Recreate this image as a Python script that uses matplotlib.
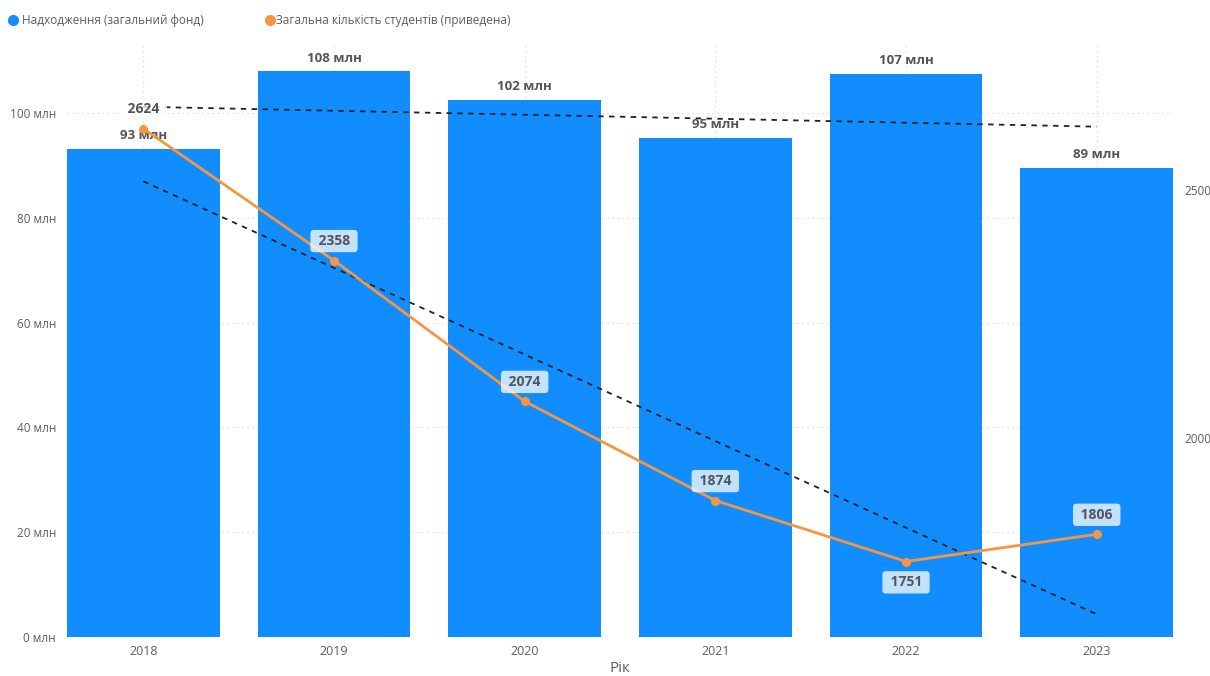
import matplotlib.pyplot as plt
from matplotlib.lines import Line2D
import numpy as np

plt.rcParams["font.family"] = ["Open Sans", "DejaVu Sans"]

# data
years = ["2018", "2019", "2020", "2021", "2022", "2023"]
income_mln = [93.1, 107.9, 102.4, 95.3, 107.4, 89.5]
income_labels = ["93 млн", "108 млн", "102 млн", "95 млн", "107 млн", "89 млн"]
students = [2624, 2358, 2074, 1874, 1751, 1806]
student_label_below = [False, False, False, False, True, False]
left_ticks = [0, 20, 40, 60, 80, 100]
right_ticks = [2000, 2500]

bar_color = "#118DFF"
line_color = "#F7963F"
text_color = "#605E5C"
label_color = "#555555"

x = np.arange(len(years))

fig = plt.figure(figsize=(12.1, 6.76), dpi=100)
ax = fig.add_axes([0.0554, 0.0577, 0.914, 0.880])
ax2 = ax.twinx()

ax.bar(x, income_mln, width=0.8, color=bar_color, zorder=2)
ax.set_xlim(-0.4, 5.4)
ax.set_ylim(0, 113.5)
ax.set_yticks(left_ticks)
ax.set_yticklabels([f"{v} млн" for v in left_ticks])
ax.set_xticks(x)
ax.set_xticklabels(years)
ax.grid(True, color="#d9d9d9", linestyle=(0, (1, 3)), linewidth=0.9, zorder=0)
ax.set_axisbelow(True)
ax.tick_params(length=0, colors=text_color, labelsize=8.5, pad=8)
ax.tick_params(axis="x", labelsize=9, pad=6)
for s in ax.spines.values():
    s.set_visible(False)
ax.set_xlabel("Рік", color=text_color, fontsize=11, labelpad=2)

# bar value labels
for xi, v, lab in zip(x, income_mln, income_labels):
    ax.annotate(lab, (xi, v), xytext=(0, 5), textcoords="offset points",
                ha="center", va="bottom", fontsize=9.5, fontweight="bold",
                color=label_color, zorder=5)

# bar trend line
k, b = np.polyfit(x, income_mln, 1)
ax.plot(x[[0, -1]], k * x[[0, -1]] + b, color="#222222", linestyle=(0, (3, 3)),
        linewidth=1.3, zorder=3)

# students line
ax2.plot(x, students, color=line_color, linewidth=2, marker="o", markersize=5.5,
         zorder=4)
ax2.set_ylim(1598.8, 2798.4)
ax2.set_yticks(right_ticks)
ax2.tick_params(length=0, colors=text_color, labelsize=8.5, pad=8)
for s in ax2.spines.values():
    s.set_visible(False)

k2, b2 = np.polyfit(x, students, 1)
ax2.plot(x[[0, -1]], k2 * x[[0, -1]] + b2, color="#222222", linestyle=(0, (3, 3)),
         linewidth=1.3, zorder=3)

for xi, v, below in zip(x, students, student_label_below):
    ax2.annotate(f" {v} ", (xi, v), xytext=(0, -15 if below else 14),
                 textcoords="offset points", ha="center", va="center",
                 fontsize=10, fontweight="bold", color=label_color, zorder=6,
                 bbox=dict(boxstyle="round,pad=0.3,rounding_size=0.25",
                           facecolor="white", edgecolor="none", alpha=0.75))

# legend
fig.add_artist(Line2D([0.0107], [0.970], marker="o", markersize=7, color=bar_color,
                      linestyle="none", transform=fig.transFigure))
fig.text(0.0185, 0.970, "Надходження (загальний фонд)", color=text_color,
         fontsize=8.5, va="center", ha="left")
fig.add_artist(Line2D([0.2231], [0.970], marker="o", markersize=7, color=line_color,
                      linestyle="none", transform=fig.transFigure))
fig.text(0.2285, 0.970, "Загальна кількість студентів (приведена)", color=text_color,
         fontsize=8.5, va="center", ha="left")

fig.savefig("out.png", dpi=100)
